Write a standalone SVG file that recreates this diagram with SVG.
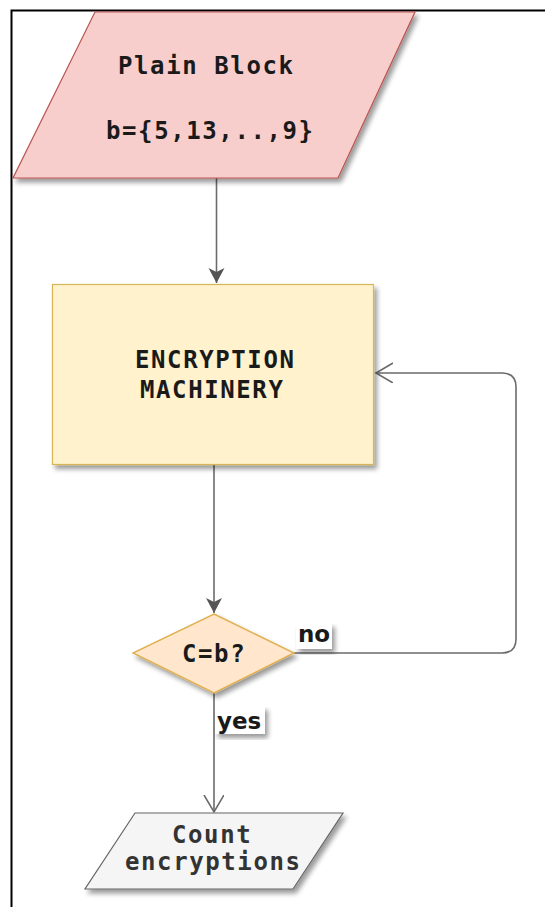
<svg xmlns="http://www.w3.org/2000/svg" width="545" height="907" viewBox="0 0 545 907">
<style>
.t{font-family:"DejaVu Sans Mono","Liberation Mono",monospace;font-weight:bold;font-size:24px;letter-spacing:1.6px;fill:#1a1a1a}
.l{font-family:"DejaVu Sans",sans-serif;font-weight:bold;font-size:23px;fill:#1a1a1a}
.c{fill:none;stroke:#6b6b6b;stroke-width:1.6}
</style>
<defs>
<filter id="sh" x="-10%" y="-10%" width="130%" height="130%">
<feGaussianBlur in="SourceAlpha" stdDeviation="2.5"/>
<feOffset dx="3" dy="4" result="b"/>
<feComponentTransfer><feFuncA type="linear" slope="0.4"/></feComponentTransfer>
<feMerge><feMergeNode/><feMergeNode in="SourceGraphic"/></feMerge>
</filter>
<marker id="fa" markerUnits="userSpaceOnUse" markerWidth="18" markerHeight="18" refX="15" refY="8" orient="auto">
<path d="M0,0 L15,8 L0,16 L4,8 Z" fill="#555"/>
</marker>
<marker id="oa" markerUnits="userSpaceOnUse" markerWidth="20" markerHeight="22" refX="17" refY="10" orient="auto">
<path d="M0,0 L17,10 L0,20" fill="none" stroke="#6b6b6b" stroke-width="1.6"/>
</marker>
</defs>
<rect width="545" height="907" fill="#ffffff"/>
<rect x="11.5" y="10.5" width="600" height="1000" fill="none" stroke="#000" stroke-width="2"/>
<g id="connectors">
<path class="c" d="M216.5 178 V283" marker-end="url(#fa)"/>
<path class="c" d="M214 465 V613" marker-end="url(#fa)"/>
<path class="c" d="M294 653 H502 Q516 653 516 639 V387 Q516 373 502 373 H376" marker-end="url(#oa)"/>
<path class="c" d="M214 693 V812" marker-end="url(#oa)"/>
</g>
<g id="plain-block">
<polygon points="95,12 415,12 338,178 13,178" fill="#f8cecc" stroke="#b85450" stroke-width="1.2" filter="url(#sh)"/>
<text class="t" x="118" y="74">Plain Block</text>
<text class="t" x="106" y="139">b={5,13,..,9}</text>
</g>
<g id="encryption-machinery">
<rect x="52.5" y="284.5" width="321" height="180" fill="#fff2cc" stroke="#d6b656" stroke-width="1.2" filter="url(#sh)"/>
<text class="t" x="135" y="368">ENCRYPTION</text>
<text class="t" x="140" y="398">MACHINERY</text>
</g>
<g id="decision">
<polygon points="214,614 294,653 214,693 133,653" fill="#ffe6cc" stroke="#e0b050" stroke-width="1.4" filter="url(#sh)"/>
<text class="t" x="182" y="662">C=b?</text>
</g>
<g id="label-no">
<rect x="296" y="623" width="36" height="26" fill="#ffffff" filter="url(#sh)"/>
<text class="l" x="298" y="642">no</text>
</g>
<g id="label-yes">
<rect x="215" y="706" width="50" height="28" fill="#ffffff" filter="url(#sh)"/>
<text class="l" x="217" y="729">yes</text>
</g>
<g id="count-encryptions">
<polygon points="135,813 343,813 293,889 85,889" fill="#f5f5f5" stroke="#666666" stroke-width="1.2" filter="url(#sh)"/>
<text class="t" x="172" y="843" style="fill:#333">Count</text>
<text class="t" x="125" y="870" style="fill:#333">encryptions</text>
</g>
</svg>
